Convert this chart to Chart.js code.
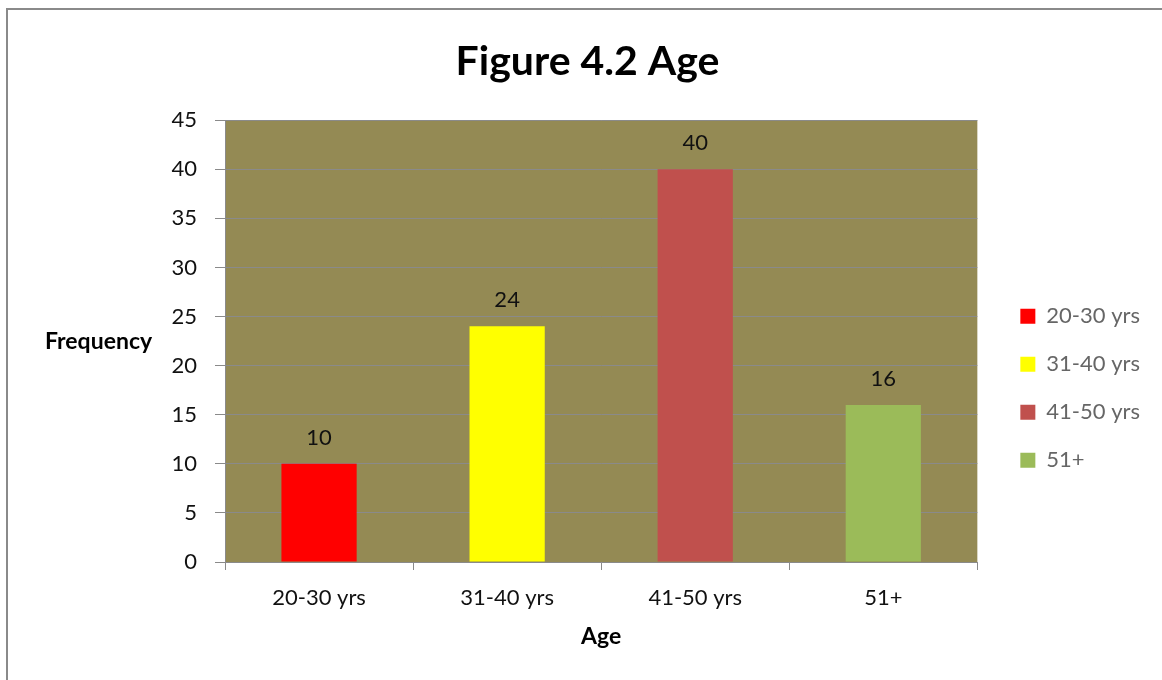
<!DOCTYPE html>
<html>
<head>
<meta charset="utf-8">
<title>Figure 4.2 Age</title>
<script src="https://cdn.jsdelivr.net/npm/chart.js@4.4.1/dist/chart.umd.min.js"></script>
<style>
  html, body { margin: 0; padding: 0; background: #fff; }
  #wrap { position: relative; width: 1162px; height: 680px; overflow: hidden; }
  #frame {
    position: absolute; left: 6px; top: 8px; width: 1300px; height: 800px;
    border-left: 2px solid #8a8a8a; border-top: 2px solid #8a8a8a;
  }
  #chart { position: absolute; left: 0; top: 0; }
</style>
</head>
<body>
<div id="wrap">
  <div id="frame"></div>
  <canvas id="chart" width="1162" height="680"></canvas>
</div>
<script>
// Age groups and how many respondents fell in each
const ageGroups = ['20-30 yrs', '31-40 yrs', '41-50 yrs', '51+'];
const frequency = [10, 24, 40, 16];
const barColors = ['#FF0000', '#FFFF00', '#C0504D', '#9BBB59'];
const yTicks = { min: 0, max: 45, step: 5 };

const FONT = 'Lato, "Open Sans", sans-serif';
const PLOT_BG = '#948A54';
const LINE = '#8a8a8a';
const TEXT = '#111';

// olive fill behind the plot area
const plotBackground = {
  id: 'plotBackground',
  beforeDraw(chart) {
    const { ctx, chartArea: a } = chart;
    ctx.save();
    ctx.fillStyle = PLOT_BG;
    ctx.fillRect(a.left, a.top, a.right - a.left, a.bottom - a.top);
    ctx.restore();
  }
};

// value printed over each bar
const valueLabels = {
  id: 'valueLabels',
  afterDatasetsDraw(chart) {
    const { ctx } = chart;
    const meta = chart.getDatasetMeta(0);
    ctx.save();
    ctx.font = '22px ' + FONT;
    ctx.fillStyle = TEXT;
    ctx.textAlign = 'center';
    ctx.textBaseline = 'middle';
    meta.data.forEach((bar, i) => {
      ctx.fillText(String(chart.data.datasets[0].data[i]), bar.x, bar.y - 26);
    });
    ctx.restore();
  }
};

// y axis caption sits level, left of the tick labels
const yCaption = {
  id: 'yCaption',
  afterDraw(chart) {
    const { ctx, chartArea: a } = chart;
    ctx.save();
    ctx.font = 'bold 23px ' + FONT;
    ctx.fillStyle = '#000';
    ctx.textAlign = 'left';
    ctx.textBaseline = 'middle';
    ctx.fillText('Frequency', 45, (a.top + a.bottom) / 2);
    ctx.restore();
  }
};

new Chart(document.getElementById('chart'), {
  type: 'bar',
  data: {
    labels: ageGroups,
    datasets: [{
      label: 'Frequency',
      data: frequency,
      backgroundColor: barColors,
      borderWidth: 0,
      barPercentage: 0.4,
      categoryPercentage: 1.0
    }]
  },
  options: {
    responsive: false,
    animation: false,
    devicePixelRatio: 1,
    layout: { padding: { left: 25, right: 12, top: 0, bottom: 0 } },
    scales: {
      x: {
        grid: { drawOnChartArea: false, drawTicks: true, tickLength: 8, color: LINE },
        border: { display: true, color: LINE, width: 1 },
        ticks: { color: TEXT, font: { family: FONT, size: 22 }, padding: 15 },
        title: {
          display: true, text: 'Age', color: '#000',
          font: { family: FONT, size: 23, weight: 'bold' },
          padding: { top: 4, bottom: 30 }
        },
        afterFit(scale) { scale.height = 118; }
      },
      y: {
        min: yTicks.min,
        max: yTicks.max,
        ticks: { stepSize: yTicks.step, color: TEXT, font: { family: FONT, size: 22 }, padding: 18 },
        grid: { color: LINE, tickLength: 10 },
        border: { display: true, color: LINE, width: 1 },
        afterFit(scale) { scale.width = 200; }
      },
      // empty spacer between plot and legend
      gap: {
        type: 'linear',
        position: 'right',
        display: true,
        grid: { display: false },
        border: { display: false },
        ticks: { display: false },
        afterFit(scale) { scale.width = 17; }
      }
    },
    plugins: {
      title: {
        display: true,
        text: 'Figure 4.2 Age',
        color: '#000',
        font: { family: FONT, size: 41, weight: 'bold' },
        padding: { top: 37, bottom: 34 }
      },
      legend: {
        position: 'right',
        fullSize: false,
        title: { display: true, text: '', padding: { top: 80, bottom: 0 } },
        labels: {
          boxWidth: 15,
          boxHeight: 15,
          padding: 26,
          color: TEXT,
          font: { family: FONT, size: 22 },
          generateLabels(chart) {
            return chart.data.labels.map((text, i) => ({
              text,
              fillStyle: barColors[i],
              strokeStyle: barColors[i],
              lineWidth: 0,
              hidden: false,
              index: i
            }));
          }
        }
      },
      tooltip: { enabled: false }
    }
  },
  plugins: [plotBackground, valueLabels, yCaption]
});
</script>
</body>
</html>
